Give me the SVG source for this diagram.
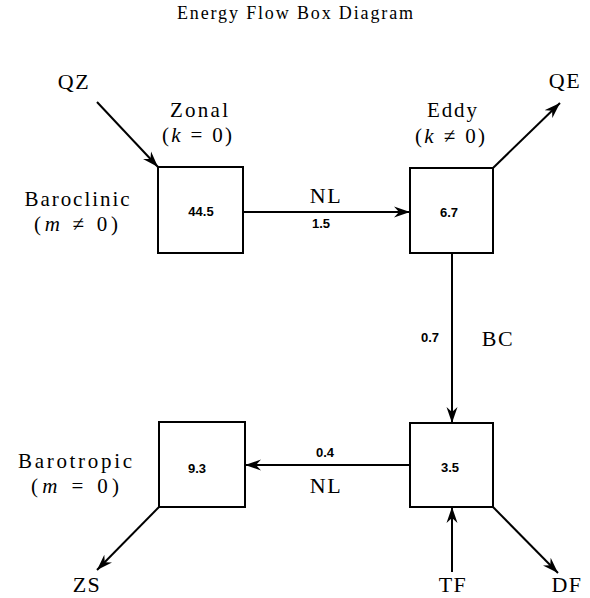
<svg xmlns="http://www.w3.org/2000/svg" width="590" height="598" viewBox="0 0 590 598">
<style>
.lbl{font-family:"Liberation Serif","DejaVu Serif",serif;font-size:21px;fill:#000;text-anchor:middle}
.tag{font-family:"Liberation Serif","DejaVu Serif",serif;font-size:22px;fill:#000;text-anchor:middle;letter-spacing:1.5px}
.ttl{font-family:"Liberation Serif","DejaVu Serif",serif;font-size:18px;fill:#000;text-anchor:middle}
.num{font-family:"Liberation Sans","DejaVu Sans",sans-serif;font-size:13px;font-weight:bold;fill:#000;text-anchor:middle}
.box{fill:#fff;stroke:#000;stroke-width:2}
.edge{fill:none;stroke:#000;stroke-width:2;marker-end:url(#arr)}
.it{font-style:italic}
</style>
<defs>
<marker id="arr" markerUnits="userSpaceOnUse" markerWidth="18" markerHeight="12" refX="16" refY="6" orient="auto">
<path d="M0,0.5 L16,6 L0,11.5 L5,6 Z" fill="#000"/>
</marker>
</defs>
<rect width="590" height="598" fill="#fff"/>
<text class="ttl" x="295" y="19" textLength="236" lengthAdjust="spacing">Energy Flow Box Diagram</text>

<g id="connectors">
<line class="edge" x1="97" y1="102" x2="158" y2="167"/>
<line class="edge" x1="493" y1="168" x2="560" y2="103"/>
<line class="edge" x1="243" y1="212" x2="410" y2="212"/>
<line class="edge" x1="452" y1="253" x2="452" y2="423"/>
<line class="edge" x1="410" y1="465" x2="245" y2="465"/>
<line class="edge" x1="159" y1="507" x2="97" y2="570"/>
<line class="edge" x1="452" y1="572" x2="452" y2="507"/>
<line class="edge" x1="493" y1="507" x2="558" y2="573"/>
<text class="tag" x="326" y="203">NL</text>
<text class="num" x="321" y="228">1.5</text>
<text class="num" x="430" y="342">0.7</text>
<text class="tag" x="498" y="346">BC</text>
<text class="num" x="325" y="457">0.4</text>
<text class="tag" x="326" y="493">NL</text>
<text class="tag" x="74" y="89">QZ</text>
<text class="tag" x="565" y="88">QE</text>
<text class="tag" x="87" y="592">ZS</text>
<text class="tag" x="453" y="592">TF</text>
<text class="tag" x="567" y="592">DF</text>
</g>

<g id="zonal-baroclinic">
<rect class="box" x="158" y="167" width="85" height="86"/>
<text class="num" x="201" y="216">44.5</text>
<text class="lbl" x="199" y="117" textLength="58" lengthAdjust="spacing">Zonal</text>
<text class="lbl" x="197" y="142" textLength="70" lengthAdjust="spacing">(<tspan class="it">k</tspan> = 0)</text>
<text class="lbl" x="77" y="206" textLength="105" lengthAdjust="spacing">Baroclinic</text>
<text class="lbl" x="76" y="231" textLength="84" lengthAdjust="spacing">(<tspan class="it">m</tspan> ≠ 0)</text>
</g>

<g id="eddy-baroclinic">
<rect class="box" x="410" y="168" width="83" height="85"/>
<text class="num" x="449" y="217">6.7</text>
<text class="lbl" x="452" y="117" textLength="50" lengthAdjust="spacing">Eddy</text>
<text class="lbl" x="450" y="143" textLength="70" lengthAdjust="spacing">(<tspan class="it">k</tspan> ≠ 0)</text>
</g>

<g id="zonal-barotropic">
<rect class="box" x="159" y="422" width="86" height="85"/>
<text class="num" x="197" y="473">9.3</text>
<text class="lbl" x="75" y="468" textLength="114" lengthAdjust="spacing">Barotropic</text>
<text class="lbl" x="75" y="493" textLength="88" lengthAdjust="spacing">(<tspan class="it">m</tspan> = 0)</text>
</g>

<g id="eddy-barotropic">
<rect class="box" x="410" y="423" width="83" height="84"/>
<text class="num" x="450" y="472">3.5</text>
</g>
</svg>
